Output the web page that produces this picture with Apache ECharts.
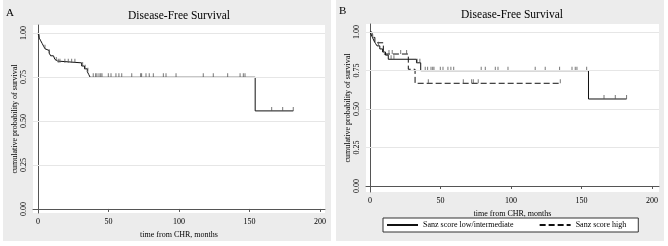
<!DOCTYPE html>
<html>
<head>
<meta charset="utf-8">
<script src="https://cdn.jsdelivr.net/npm/echarts@6/dist/echarts.min.js"></script>
<style>
  html, body { margin: 0; padding: 0; background: #fff; }
  #chart { width: 668px; height: 246px; }
</style>
</head>
<body>
<div id="chart"></div>
<script>
var xTicks = [0, 50, 100, 150, 200];
var yTicks = [0, 0.25, 0.5, 0.75, 1];

// panel A: all patients (step times and survival after each step)
var allTimes = [0, 0.5, 1, 2, 3, 4, 5, 6, 8, 9, 11, 12, 13, 14, 31, 33, 35, 36, 37, 154, 181];
var allSurv = [1.0, 0.985, 0.97, 0.955, 0.94, 0.925, 0.91, 0.9, 0.885, 0.87, 0.86, 0.85, 0.84, 0.83, 0.812, 0.796, 0.78, 0.764, 0.748, 0.557, 0.557];
var allCensor = [1, 5, 8, 13, 14.4, 15.6, 19.1, 21.5, 23.9, 26.2, 31.7, 33.5, 35.4, 39.2, 40.9, 41.8, 43.3, 44.5, 45.4, 49.9, 51.8, 55.3, 57.4, 59.4, 66.5, 72.8, 73.5, 76.6, 78.9, 81.8, 88.9, 90.8, 97.9, 117.2, 124.3, 134.5, 143.3, 145.6, 146.8, 165.7, 173.5, 181];

// panel B: Sanz score low/intermediate
var lowTimes = [0, 1, 2, 3, 4, 5, 7, 9, 11, 13, 33, 36, 155, 182];
var lowSurv = [1.0, 0.98, 0.96, 0.94, 0.925, 0.91, 0.89, 0.87, 0.85, 0.823, 0.8, 0.749, 0.565, 0.565];
var lowCensor = [2, 6, 15, 17, 33.5, 35.4, 39.2, 40.9, 43.3, 44.5, 45.4, 49.9, 51.8, 55.3, 57.4, 59.4, 78.9, 81.8, 88.9, 90.8, 97.9, 117.2, 124.3, 134.5, 143.3, 145.6, 146.8, 153.7, 166, 174, 182];

// panel B: Sanz score high
var highTimes = [0, 1.5, 3.5, 9.5, 27.2, 32, 135];
var highSurv = [1.0, 0.965, 0.93, 0.857, 0.758, 0.667, 0.667];
var highCensor = [13.5, 15.8, 21.8, 26, 41.4, 66.2, 72.1, 73.3, 76.8, 135];

var seriesNames = ['Sanz score low/intermediate', 'Sanz score high'];
var panelTitle = 'Disease-Free Survival';
var xName = 'time from CHR, months';
var yName = 'cumulative probability of survival';

var font = 'Liberation Serif';
var ink = '#111';
var tickInk = '#555';
var panelBg = '#ececec';
var gridLineColor = '#e6e6e6';

function pairs(ts, ss) {
  return ts.map(function(t, i) { return [t, ss[i]]; });
}
function survAt(ts, ss, t) {
  var s = ss[0];
  for (var i = 0; i < ts.length; i++) { if (ts[i] <= t) s = ss[i]; }
  return s;
}
function censorPts(ts, ss, cs) {
  return cs.map(function(c) { return [c, survAt(ts, ss, c)]; });
}

var chart = echarts.init(document.getElementById('chart'), null, { renderer: 'canvas' });

function xAxisFor(idx, min, max) {
  return {
    gridIndex: idx, type: 'value', min: min, max: max,
    name: xName, nameLocation: 'middle', nameGap: 14,
    nameTextStyle: { fontFamily: font, fontSize: 8, color: '#000' },
    axisLine: { lineStyle: { color: tickInk, width: 1 } },
    axisTick: { customValues: xTicks, length: 3, lineStyle: { color: tickInk } },
    axisLabel: { customValues: xTicks, margin: 5, fontFamily: font, fontSize: 8, color: '#000' },
    splitLine: { show: false }
  };
}
function yAxisFor(idx, min, max) {
  return {
    gridIndex: idx, type: 'value', min: min, max: max,
    name: yName, nameLocation: 'middle', nameGap: 14,
    nameTextStyle: { fontFamily: font, fontSize: 8, color: '#000' },
    axisLine: { show: true, lineStyle: { color: tickInk, width: 1 } },
    axisTick: { show: true, customValues: yTicks, length: 3, lineStyle: { color: tickInk } },
    axisLabel: { customValues: yTicks, rotate: 90, margin: 5, fontFamily: font, fontSize: 8, color: '#000',
      formatter: function(v) { return v.toFixed(2); } },
    splitLine: { show: false }
  };
}
var gridMarks = {
  silent: true, symbol: 'none', label: { show: false },
  lineStyle: { color: gridLineColor, width: 1, type: 'solid' },
  data: yTicks.filter(function(v) { return v > 0; }).map(function(v) { return { yAxis: v }; })
};
function stepSeries(name, idx, data, dashed, marks) {
  var s = {
    name: name, type: 'line', step: 'end', xAxisIndex: idx, yAxisIndex: idx,
    data: data, symbol: 'none', z: 3,
    lineStyle: { color: ink, width: 1, type: dashed ? [6, 3] : 'solid' },
    itemStyle: { color: ink }
  };
  if (marks) s.markLine = marks;
  return s;
}
function censorSeries(idx, data) {
  return {
    type: 'scatter', xAxisIndex: idx, yAxisIndex: idx, data: data,
    symbol: 'rect', symbolSize: [1, 4], symbolOffset: [0, -2], z: 4,
    itemStyle: { color: tickInk }, silent: true
  };
}

chart.setOption({
  backgroundColor: '#fff',
  animation: false,
  graphic: [
    { type: 'rect', shape: { x: 3, y: 0, width: 328, height: 241 }, style: { fill: panelBg }, z: -10 },
    { type: 'rect', shape: { x: 336, y: 0, width: 328, height: 241 }, style: { fill: panelBg }, z: -10 },
    { type: 'text', x: 6, y: 8, style: { text: 'A', font: '11px "' + font + '"', fill: '#000' } },
    { type: 'text', x: 339, y: 6, style: { text: 'B', font: '11px "' + font + '"', fill: '#000' } },
    { type: 'text', x: 179, y: 16, style: { text: panelTitle, font: '11.5px "' + font + '"', fill: '#000', align: 'center', verticalAlign: 'middle' } },
    { type: 'text', x: 512, y: 15, style: { text: panelTitle, font: '11.5px "' + font + '"', fill: '#000', align: 'center', verticalAlign: 'middle' } }
  ],
  grid: [
    { left: 33, right: 343, top: 25, bottom: 33, show: true, backgroundColor: '#fff', borderWidth: 0 },
    { left: 366, right: 9, top: 24, bottom: 54, show: true, backgroundColor: '#fff', borderWidth: 0 }
  ],
  xAxis: [xAxisFor(0, -3.5, 203.5), xAxisFor(1, -2.8, 205)],
  yAxis: [yAxisFor(0, -0.023, 1.045), yAxisFor(1, -0.039, 1.052)],
  legend: {
    data: seriesNames,
    left: 383, top: 218,
    orient: 'horizontal',
    itemWidth: 31, itemHeight: 8, itemGap: 25,
    padding: [3, 12, 3, 3],
    borderColor: '#333', borderWidth: 1,
    backgroundColor: '#fff',
    itemStyle: { opacity: 0 },
    textStyle: { fontFamily: font, fontSize: 8, color: '#000' }
  },
  series: [
    stepSeries('all', 0, pairs(allTimes, allSurv), false, gridMarks),
    censorSeries(0, censorPts(allTimes, allSurv, allCensor)),
    stepSeries(seriesNames[0], 1, pairs(lowTimes, lowSurv), false, gridMarks),
    censorSeries(1, censorPts(lowTimes, lowSurv, lowCensor)),
    stepSeries(seriesNames[1], 1, pairs(highTimes, highSurv), true, null),
    censorSeries(1, censorPts(highTimes, highSurv, highCensor))
  ]
});
</script>
</body>
</html>
